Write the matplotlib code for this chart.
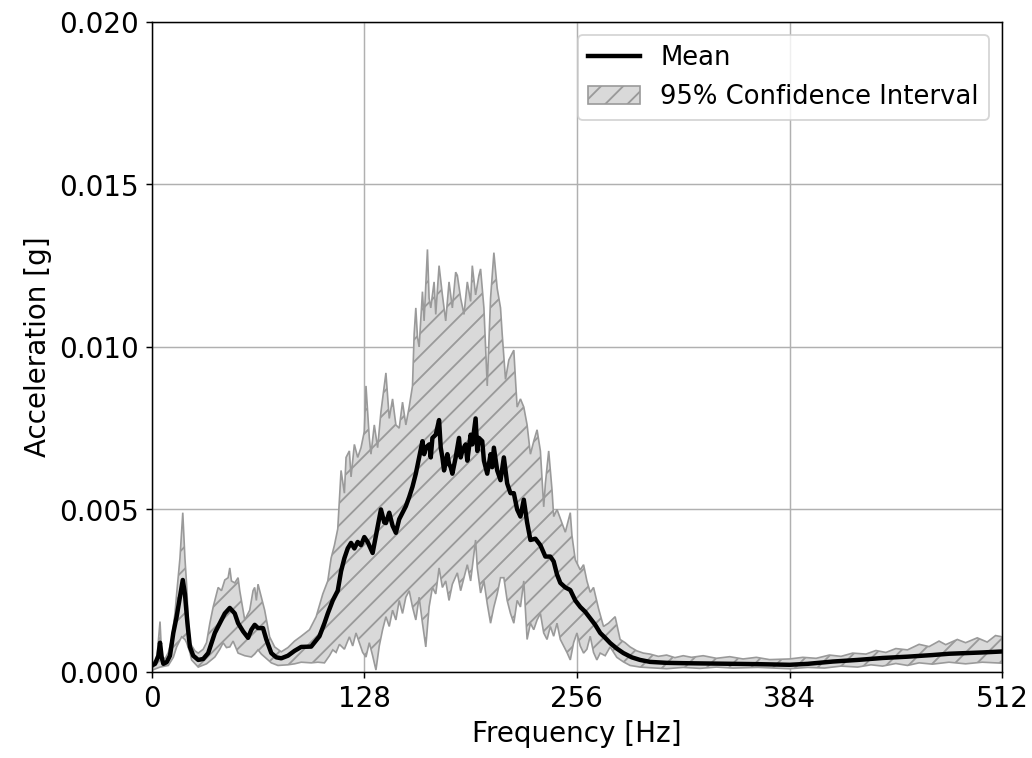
import numpy as np
import matplotlib
matplotlib.use("Agg")
import matplotlib.pyplot as plt

# =========================================================
# DATA (acceleration in mg)
# =========================================================

mean_f = [0, 2, 4, 5, 6, 7, 9, 11, 13, 15, 17, 18.7, 20, 21.5, 23, 25, 28, 31, 34, 38,
          41, 44, 47, 50, 52, 55, 58, 60, 62, 64, 67, 69, 72, 75, 78, 82, 86, 90, 96, 101,
          104, 106, 109, 112, 114, 116, 118, 120, 122, 124, 126, 128, 130, 133, 135, 138, 140, 141, 143, 145,
          147, 149, 151, 153, 155, 157, 159, 161, 163, 164, 165, 167, 168, 169, 171, 173, 174, 175, 176, 178,
          179, 180, 181, 183, 185, 186, 187, 189, 190, 192, 193, 195, 196, 197, 199, 200, 202, 204, 205, 206,
          208, 210, 212, 214, 216, 218, 220, 222, 224, 226, 228, 231, 234, 237, 240, 242, 244, 246, 249, 252,
          255, 258, 261, 264, 267, 270, 273, 276, 280, 284, 289, 294, 300, 310, 320, 335, 350, 365, 384, 395,
          410, 425, 440, 455, 470, 480, 490, 500, 512]
mean_v = [0.2, 0.25, 0.5, 0.9, 0.45, 0.25, 0.3, 0.5, 1.2, 1.7, 2.3, 2.83, 2.4, 1.5, 0.77, 0.5, 0.37, 0.4, 0.58, 1.2,
          1.5, 1.8, 1.97, 1.8, 1.5, 1.25, 1.05, 1.3, 1.45, 1.35, 1.35, 1.0, 0.58, 0.45, 0.42, 0.5, 0.65, 0.77, 0.78, 1.1,
          1.5, 1.8, 2.2, 2.5, 3.1, 3.5, 3.8, 3.97, 3.8, 4.0, 3.9, 4.15, 4.0, 3.66, 4.2, 5.0, 4.6, 4.58, 4.9, 4.5,
          4.28, 4.7, 4.9, 5.1, 5.38, 5.7, 6.1, 6.6, 7.1, 6.7, 6.9, 7.0, 6.6, 7.2, 7.3, 7.75, 6.9, 6.6, 6.2, 6.7,
          6.4, 6.3, 6.1, 6.6, 7.2, 6.6, 6.8, 7.0, 6.5, 7.3, 7.0, 7.8, 6.8, 7.2, 7.1, 6.5, 6.1, 6.7, 6.3, 6.9,
          6.2, 5.9, 6.6, 5.8, 5.5, 5.5, 5.0, 4.78, 5.3, 4.6, 4.06, 4.1, 3.9, 3.55, 3.55, 3.4, 3.0, 2.74, 2.6, 2.52,
          2.2, 2.0, 1.85, 1.65, 1.45, 1.2, 1.05, 0.89, 0.72, 0.58, 0.45, 0.37, 0.31, 0.28, 0.27, 0.26, 0.25, 0.24, 0.22, 0.25,
          0.32, 0.37, 0.43, 0.47, 0.52, 0.56, 0.58, 0.6, 0.63]

upper_f = [0, 3, 5, 6, 8, 10, 12, 14, 15, 17, 18.7, 20, 21, 22, 23, 26, 28, 31, 33, 35,
           37, 40, 42, 44, 46, 47, 48, 50, 52, 53, 56, 59, 61, 62, 63, 64, 66, 68, 71, 74,
           78, 82, 86, 90, 95, 99, 103, 106, 108, 110, 112, 114, 116, 117, 119, 120, 122, 124, 126, 128,
           129, 131, 132, 134, 136, 138, 141, 143, 145, 147, 149, 151, 153, 155, 157, 158, 159, 160, 161, 163,
           164, 166, 167, 168, 170, 171, 173, 175, 177, 179, 181, 183, 184, 186, 188, 190, 192, 193, 195, 197,
           198, 200, 202, 204, 206, 208, 210, 211, 213, 215, 218, 219, 220, 222, 224, 226, 228, 230, 232, 234,
           236, 237, 239, 241, 242, 244, 247, 249, 252, 253, 255, 258, 260, 262, 264, 266, 269, 272, 275, 279,
           282, 285, 288, 292, 296, 300, 305, 310, 315, 320, 325, 332, 340, 348, 356, 364, 372, 384, 392, 400,
           408, 415, 422, 430, 436, 442, 448, 455, 462, 468, 474, 478, 485, 490, 497, 503, 508, 512]
upper_v = [0.3, 0.35, 1.55, 0.5, 0.4, 0.6, 1.0, 1.8, 2.4, 3.5, 4.9, 3.5, 2.7, 1.6, 0.9, 0.65, 0.58, 0.7, 0.9, 1.5,
           2.0, 2.6, 2.5, 2.83, 2.9, 3.2, 2.8, 2.74, 2.9, 2.5, 1.6, 1.9, 2.5, 2.6, 2.2, 2.7, 2.3, 1.9, 1.08, 0.77,
           0.62, 0.75, 0.95, 1.1, 1.3, 1.7, 2.4, 2.8, 3.5, 3.9, 4.4, 6.2, 5.5, 6.6, 6.8, 6.0, 7.0, 6.6, 6.9, 7.4,
           8.8, 7.2, 6.7, 7.6, 6.9, 8.0, 9.2, 7.8, 8.4, 7.6, 7.5, 8.3, 7.6, 8.15, 8.8, 10.4, 11.2, 10.3, 10.0, 11.7,
           10.8, 13.0, 11.5, 11.2, 12.0, 11.0, 12.5, 11.6, 10.8, 12.0, 11.2, 12.3, 12.2, 11.5, 11.0, 12.0, 11.4, 12.5, 11.6, 12.2,
           12.4, 11.2, 8.8, 11.5, 12.9, 11.8, 11.2, 10.4, 9.0, 9.6, 9.9, 9.0, 8.15, 8.4, 8.15, 7.6, 6.7, 7.1, 7.45, 6.8,
           5.08, 5.8, 6.8, 5.6, 4.78, 5.0, 4.58, 4.3, 4.9, 4.2, 3.45, 3.14, 3.3, 2.8, 2.45, 2.6, 1.95, 1.4, 1.5, 1.7,
           1.0, 0.9, 0.77, 0.65, 0.58, 0.55, 0.48, 0.52, 0.44, 0.5, 0.45, 0.5, 0.42, 0.47, 0.4, 0.45, 0.38, 0.4, 0.45, 0.42,
           0.52, 0.48, 0.58, 0.55, 0.66, 0.6, 0.72, 0.68, 0.85, 0.78, 0.95, 0.84, 1.0, 0.9, 1.05, 0.92, 1.12, 1.08]

lower_f = [0, 5, 10, 13, 15, 18, 20, 21, 23, 24, 28, 33, 38, 41, 43, 45, 47, 49, 52, 56,
           60, 62, 64, 66, 68, 72, 76, 82, 86, 90, 96, 100, 104, 107, 109, 111, 113, 116, 119, 121,
           123, 125, 127, 129, 131, 133, 135, 137, 139, 141, 143, 145, 147, 149, 151, 153, 155, 157, 159, 161,
           163, 165, 167, 169, 171, 173, 175, 177, 179, 181, 184, 186, 188, 190, 192, 195, 196, 198, 200, 202,
           204, 206, 208, 210, 212, 214, 216, 218, 220, 222, 224, 226, 228, 230, 232, 234, 236, 238, 240, 242,
           244, 246, 248, 250, 252, 254, 256, 258, 260, 262, 264, 266, 268, 270, 273, 276, 280, 284, 288, 294,
           300, 310, 320, 330, 340, 350, 365, 384, 395, 405, 415, 425, 433, 440, 448, 455, 462, 470, 480, 490,
           500, 512]
lower_v = [0.05, 0.15, 0.2, 0.45, 0.77, 1.08, 1.0, 0.9, 0.6, 0.37, 0.15, 0.25, 0.46, 0.7, 0.9, 0.75, 0.77, 0.95, 0.58, 0.5,
           0.46, 0.55, 0.68, 0.55, 0.46, 0.28, 0.2, 0.22, 0.25, 0.3, 0.28, 0.3, 0.28, 0.5, 0.68, 0.6, 0.85, 0.7, 1.08, 0.8,
           1.2, 0.9, 0.6, 0.46, 0.9, 0.5, 0.06, 0.8, 1.3, 1.7, 1.4, 1.9, 1.6, 2.2, 1.8, 2.3, 2.5, 2.0, 1.6, 2.3,
           1.5, 0.77, 2.0, 2.6, 2.4, 3.2, 2.6, 2.8, 2.2, 2.7, 3.05, 2.5, 2.9, 3.3, 2.8, 4.06, 3.2, 2.43, 2.8, 2.1,
           1.5, 2.0, 2.4, 2.9, 2.9, 2.2, 1.8, 1.5, 2.2, 2.0, 2.8, 1.0, 1.5, 1.3, 1.6, 1.8, 1.2, 1.0, 1.4, 1.1,
           1.5, 1.0, 0.8, 0.6, 0.37, 0.9, 1.2, 0.8, 0.58, 0.7, 1.1, 0.6, 0.37, 0.58, 0.5, 0.77, 0.45, 0.31, 0.2, 0.15,
           0.13, 0.1, 0.14, 0.11, 0.15, 0.12, 0.14, 0.1, 0.14, 0.12, 0.18, 0.15, 0.22, 0.18, 0.26, 0.2, 0.28, 0.24, 0.3, 0.25,
           0.3, 0.27]

x_ticks = [0, 128, 256, 384, 512]

# =========================================================
# PLOT
# =========================================================

mean_f = np.array(mean_f)
mean_g = np.array(mean_v) * 1e-3
upper_f = np.array(upper_f)
upper_g = np.array(upper_v) * 1e-3
lower_f = np.array(lower_f)
lower_g = np.array(lower_v) * 1e-3

plt.rcParams["hatch.color"] = "#8c8c8c"

fig, ax = plt.subplots(figsize=(7.76, 5.70), dpi=133)
fig.subplots_adjust(left=0.147, right=0.971, bottom=0.1135, top=0.971)

ax.plot(mean_f, mean_g, color="black", linewidth=2.4, label="Mean", zorder=3)

# confidence band: upper edge forward, lower edge back
band_x = np.concatenate([upper_f, lower_f[::-1]])
band_y = np.concatenate([upper_g, lower_g[::-1]])
ax.fill(band_x, band_y, facecolor="#d9d9d9", edgecolor="#9a9a9a",
        hatch="//", linewidth=0.9, label="95% Confidence Interval", zorder=2)

ax.set_xlim(0, 512)
ax.set_ylim(0, 0.020)
ax.set_xticks(x_ticks)
ax.set_yticks(np.arange(0, 0.0201, 0.005))
ax.tick_params(labelsize=15)

ax.set_xlabel("Frequency [Hz]", fontsize=15)
ax.set_ylabel("Acceleration [g]", fontsize=15)
ax.grid(True, zorder=0)
ax.set_axisbelow(True)

ax.legend(loc="upper right", fontsize=14)

fig.savefig("out.png", dpi=133)
